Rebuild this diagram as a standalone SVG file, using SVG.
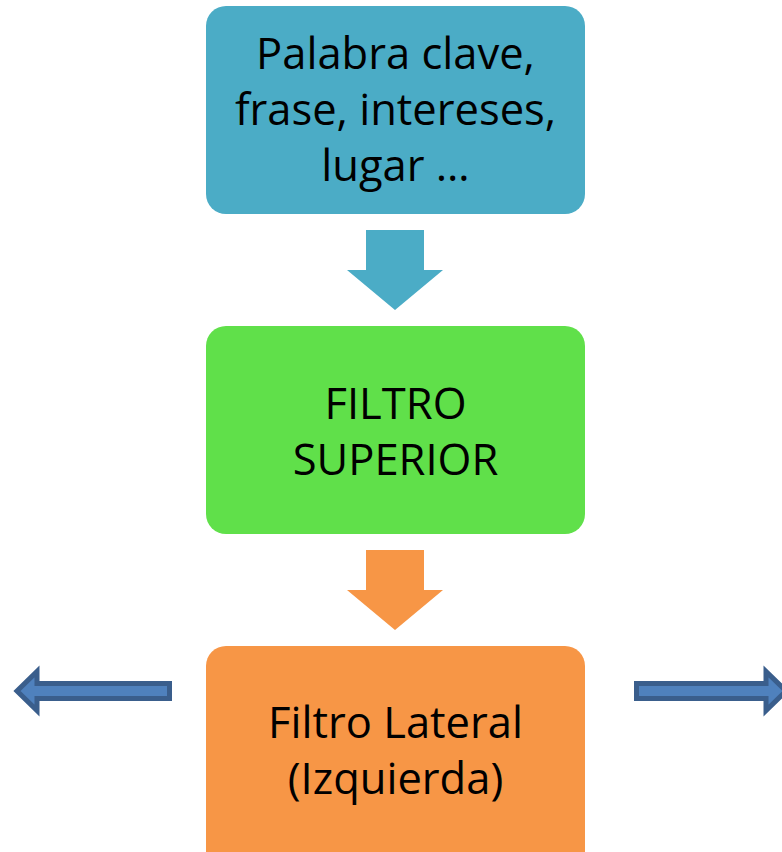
<svg xmlns="http://www.w3.org/2000/svg" width="782" height="852" viewBox="0 0 782 852">
<style>
.t{font-family:"Open Sans","Noto Sans","Liberation Sans",sans-serif;font-size:43.5px;fill:#000;text-anchor:middle}
.side{fill:#4f81bd;stroke:#3a5e8c;stroke-width:5;stroke-linejoin:miter}
</style>
<rect width="782" height="852" fill="#fff"/>
<g id="node-keywords">
<rect x="206" y="6" width="379" height="208" rx="20" fill="#4bacc6"/>
<text class="t" x="395.5" y="69">Palabra clave,</text>
<text class="t" x="395.5" y="125">frase, intereses,</text>
<text class="t" x="395.5" y="181">lugar …</text>
</g>
<g id="node-filtro-superior">
<rect x="206" y="326" width="379" height="208" rx="20" fill="#60e04a"/>
<text class="t" x="395.5" y="419">FILTRO</text>
<text class="t" x="395.5" y="475">SUPERIOR</text>
</g>
<g id="node-filtro-lateral">
<rect x="206" y="646" width="379" height="230" rx="20" fill="#f79646"/>
<text class="t" x="395.5" y="738">Filtro Lateral</text>
<text class="t" x="395.5" y="794">(Izquierda)</text>
</g>
<g id="connectors">
<polygon points="366,230 424,230 424,270 443,270 395,310 347,270 366,270" fill="#4bacc6"/>
<polygon points="366,550 424,550 424,590 443,590 395,630 347,590 366,590" fill="#f79646"/>
<polygon class="side" points="169.5,683.5 37,683.5 37,671.5 17,691 37,710.5 37,698.5 169.5,698.5"/>
<polygon class="side" points="636.5,683.5 766,683.5 766,671.5 786,691 766,710.5 766,698.5 636.5,698.5"/>
</g>
</svg>
